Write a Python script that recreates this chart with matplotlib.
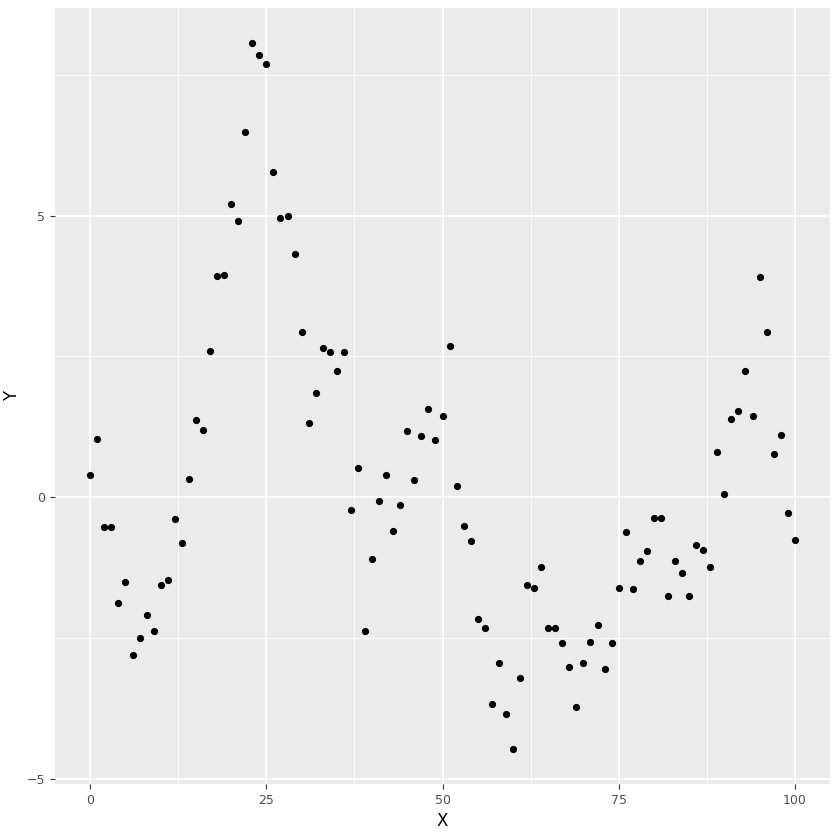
import numpy as np
import matplotlib
matplotlib.use("Agg")
import matplotlib.pyplot as plt

x_vals = list(range(0, 101))
y_vals = [
    0.39, 1.03, -0.53, -0.53, -1.89, -1.51, -2.81, -2.51, -2.10, -2.38,
    -1.57, -1.48, -0.39, -0.82, 0.32, 1.37, 1.19, 2.60, 3.93, 3.95,
    5.21, 4.91, 6.48, 8.06, 7.86, 7.70, 5.77, 4.96, 5.00, 4.31,
    2.94, 1.32, 1.85, 2.65, 2.58, 2.24, 2.58, -0.23, 0.52, -2.38,
    -1.10, -0.07, 0.39, -0.60, -0.14, 1.17, 0.30, 1.09, 1.57, 1.01,
    1.44, 2.69, 0.20, -0.52, -0.78, -2.17, -2.33, -3.68, -2.95, -3.86,
    -4.47, -3.22, -1.57, -1.62, -1.25, -2.33, -2.33, -2.60, -3.01, -3.72,
    -2.95, -2.58, -2.28, -3.06, -2.60, -1.62, -0.62, -1.64, -1.14, -0.96,
    -0.37, -0.37, -1.76, -1.14, -1.35, -1.76, -0.85, -0.94, -1.25, 0.80,
    0.05, 1.39, 1.53, 2.24, 1.44, 3.90, 2.94, 0.77, 1.10, -0.28,
    -0.77,
]
x_ticks = [0, 25, 50, 75, 100]
y_ticks = [-5, 0, 5]

fig = plt.figure(figsize=(8.4, 8.4), dpi=100)
ax = fig.add_axes([55 / 840, 56 / 840, 775 / 840, 776 / 840])
ax.set_facecolor("#EBEBEB")

# ggplot-like grid
for xm in [12.5, 37.5, 62.5, 87.5]:
    ax.axvline(xm, color="white", lw=0.6, zorder=0)
for ym in [-2.5, 2.5, 7.5]:
    ax.axhline(ym, color="white", lw=0.6, zorder=0)
for xt in x_ticks:
    ax.axvline(xt, color="white", lw=1.2, zorder=0)
for yt in y_ticks:
    ax.axhline(yt, color="white", lw=1.2, zorder=0)

ax.scatter(x_vals, y_vals, s=27, color="black", zorder=3, linewidths=0)

ymin, ymax = min(y_vals), max(y_vals)
pad = (ymax - ymin) * 0.05
ax.set_xlim(-5, 105)
ax.set_ylim(ymin - pad, ymax + pad)
ax.set_xticks(x_ticks)
ax.set_yticks(y_ticks)
ax.tick_params(colors="#333333", labelcolor="#4D4D4D", labelsize=9, length=3.5, width=0.8)
for s in ax.spines.values():
    s.set_visible(False)
ax.set_xlabel("X", fontsize=12, labelpad=4)
ax.set_ylabel("Y", fontsize=12, labelpad=4)

fig.savefig("out.png", dpi=100)
